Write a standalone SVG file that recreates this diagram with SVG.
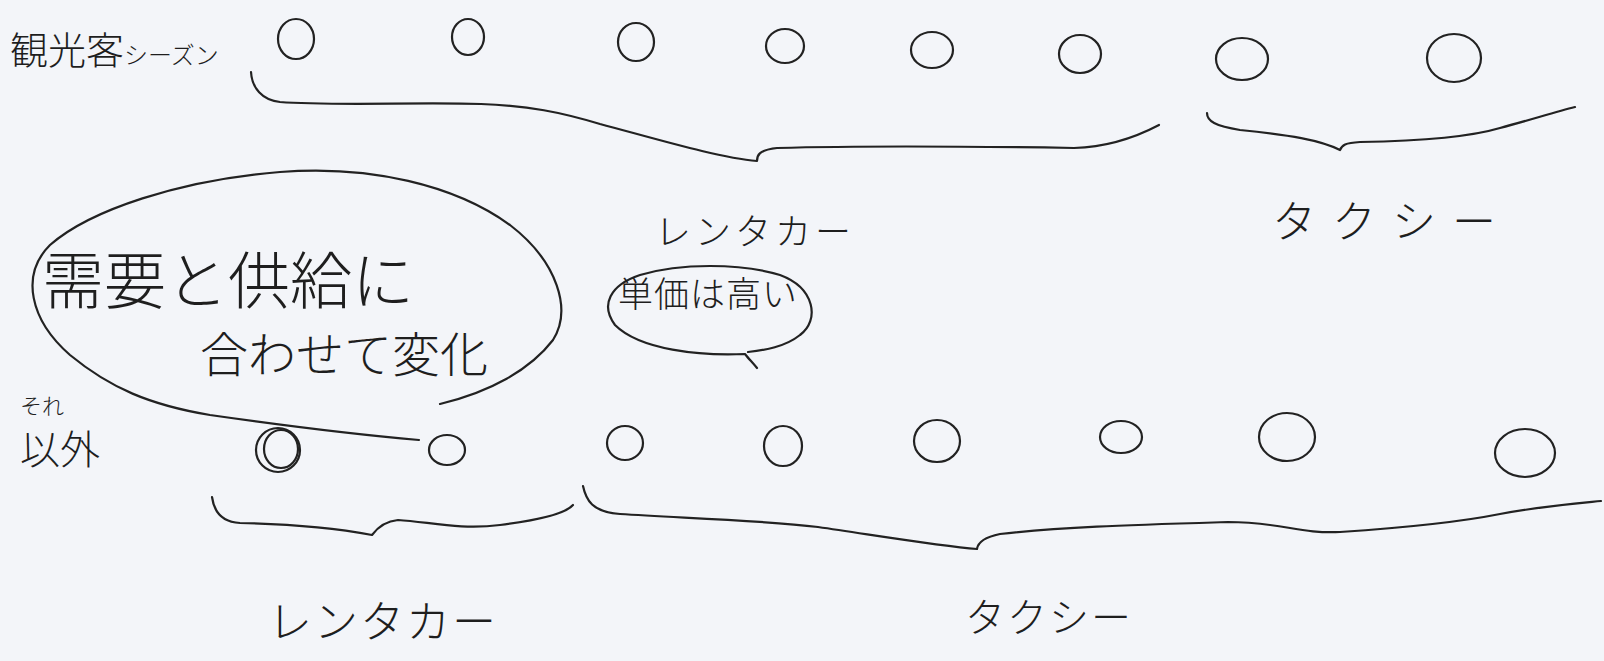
<svg xmlns="http://www.w3.org/2000/svg" width="1604" height="661" viewBox="0 0 1604 661">
<style>
.ln{fill:none;stroke:#222;stroke-width:2.2;stroke-linecap:round;stroke-linejoin:round}
.t{font-family:"Noto Sans CJK JP","Noto Sans CJK SC",sans-serif;fill:#1e1e1e;font-weight:300}
</style>
<rect width="1604" height="661" fill="#f3f5f9"/>
<g id="label-season"><text class="t" x="10" y="64" font-size="38">観光客<tspan font-size="24">シーズン</tspan></text></g>
<g id="label-other"><text class="t" x="20" y="414" font-size="22">それ</text><text class="t" x="20" y="464" font-size="40">以外</text></g>
<g id="top-circles">
<ellipse class="ln" cx="296" cy="39" rx="18" ry="20"/>
<ellipse class="ln" cx="468" cy="37" rx="16" ry="18"/>
<ellipse class="ln" cx="636" cy="42" rx="18" ry="19"/>
<ellipse class="ln" cx="785" cy="46" rx="19" ry="17"/>
<ellipse class="ln" cx="932" cy="50" rx="21" ry="18"/>
<ellipse class="ln" cx="1080" cy="54" rx="21" ry="19"/>
<ellipse class="ln" cx="1242" cy="59" rx="26" ry="21"/>
<ellipse class="ln" cx="1454" cy="58" rx="27" ry="24"/>
</g>
<g id="bottom-circles">
<ellipse class="ln" cx="278" cy="450" rx="22" ry="22"/>
<ellipse class="ln" cx="281" cy="449" rx="17" ry="19"/>
<ellipse class="ln" cx="447" cy="450" rx="18" ry="15"/>
<ellipse class="ln" cx="625" cy="443" rx="18" ry="17"/>
<ellipse class="ln" cx="783" cy="446" rx="19" ry="20"/>
<ellipse class="ln" cx="937" cy="441" rx="23" ry="21"/>
<ellipse class="ln" cx="1121" cy="437" rx="21" ry="16"/>
<ellipse class="ln" cx="1287" cy="437" rx="28" ry="24"/>
<ellipse class="ln" cx="1525" cy="453" rx="30" ry="24"/>
</g>
<g id="connectors">
<path class="ln" d="M251,72 C252,88 262,100 280,102 C330,106 420,102 481,104 C530,106 560,112 600,124 C660,140 720,158 757,161 C757,156 758,150 777,148 C850,146 950,146 1074,148 C1110,147 1140,135 1159,125"/>
<path class="ln" d="M1207,113 C1207,121 1215,126 1240,130 C1290,135 1320,140 1340,150 C1342,145 1345,143 1360,142 C1420,141 1470,137 1500,128 C1530,120 1555,112 1575,107"/>
<path class="ln" d="M212,497 C214,512 222,522 240,523 C290,524 335,528 372,535 C378,527 386,521 398,520 C430,522 460,530 500,525 C540,520 565,514 573,505"/>
<path class="ln" d="M583,486 C586,500 592,512 620,514 C680,518 760,520 818,527 C880,536 940,546 977,549 C978,542 985,537 1000,534 C1060,527 1130,525 1228,522 C1280,522 1300,534 1340,532 C1400,528 1460,522 1500,514 C1550,505 1580,503 1601,501"/>
</g>
<g id="bubble-demand">
<path class="ln" d="M440,404 C490,392 530,370 553,340 C572,310 558,262 510,225 C455,185 370,165 280,172 C180,180 90,210 50,245 C20,275 30,320 70,355 C110,388 150,405 210,415 C280,425 350,434 419,440"/>
<text class="t" x="42" y="304" font-size="62">需要と供給に</text>
<text class="t" x="200" y="372" font-size="48">合わせて変化</text>
</g>
<g id="bubble-price">
<path class="ln" d="M757,368 C752,362 748,358 745,354 C700,356 640,350 615,325 C600,305 610,285 640,275 C680,263 740,263 780,275 C815,288 820,320 800,335 C785,347 765,350 748,352"/>
<text class="t" x="618" y="307" font-size="35" letter-spacing="1">単価は高い</text>
</g>
<g id="label-rental-top"><text class="t" x="655" y="245" font-size="36" letter-spacing="4">レンタカー</text></g>
<g id="label-taxi-top"><text class="t" x="1272" y="238" font-size="44" letter-spacing="16">タクシー</text></g>
<g id="label-rental-bottom"><text class="t" x="268" y="638" font-size="44" letter-spacing="2">レンタカー</text></g>
<g id="label-taxi-bottom"><text class="t" x="965" y="632" font-size="40" letter-spacing="2">タクシー</text></g>
</svg>
